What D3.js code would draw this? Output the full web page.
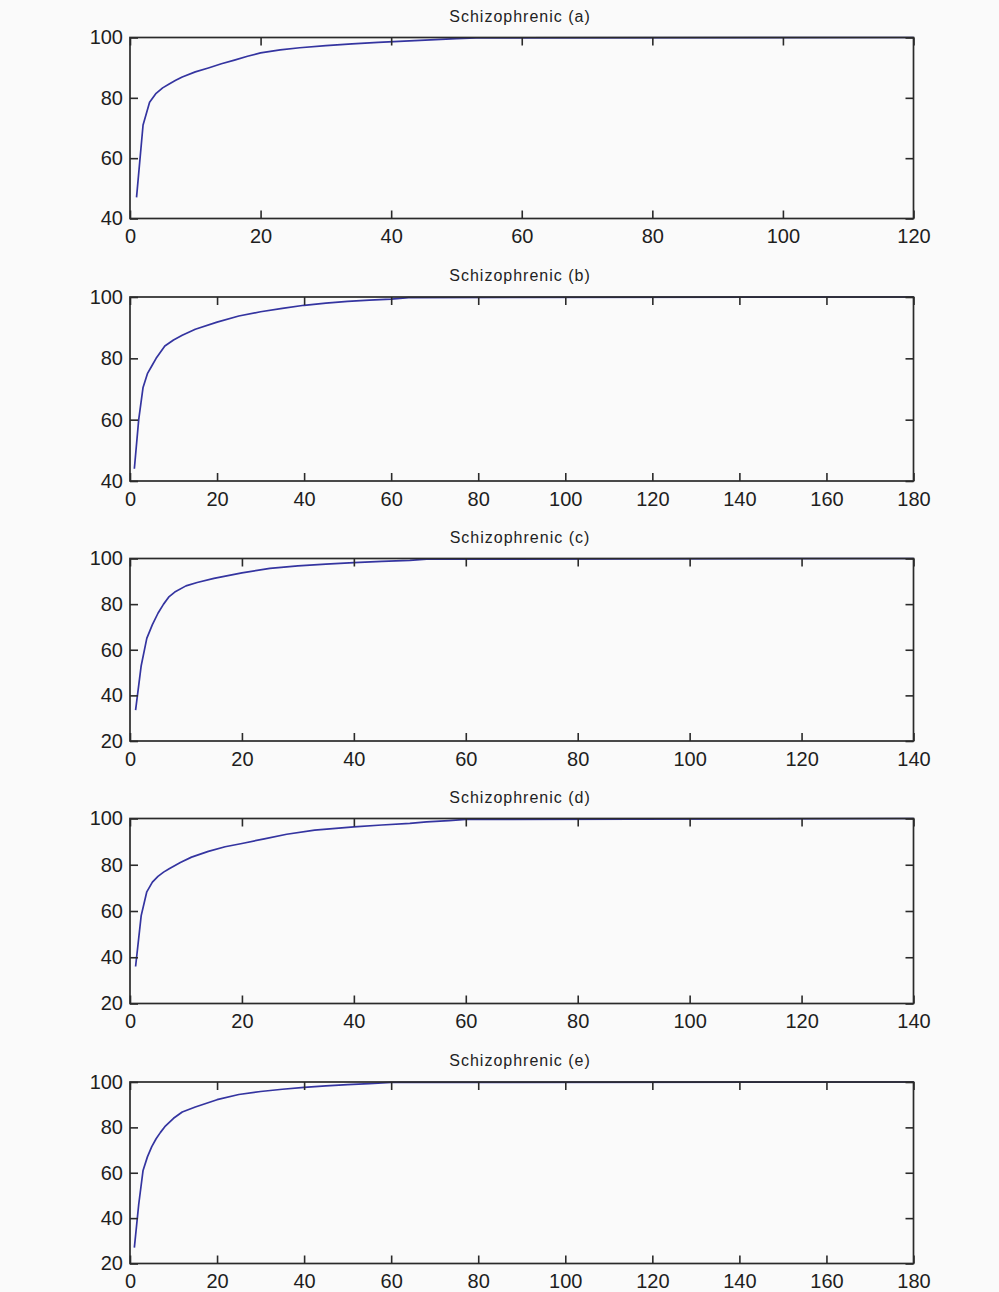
<!DOCTYPE html>
<html>
<head>
<meta charset="utf-8">
<script src="https://cdn.jsdelivr.net/npm/d3@7/dist/d3.min.js"></script>
<style>
  html, body { margin: 0; padding: 0; background: #fafafa; }
  svg { display: block; }
  .tick text { font-family: Arial, "Liberation Sans", Helvetica, sans-serif; }
</style>
</head>
<body>
<svg id="chart" width="999" height="1292"></svg>
<script>
// Panel titles
const titles = ["Schizophrenic (a)", "Schizophrenic (b)", "Schizophrenic (c)", "Schizophrenic (d)", "Schizophrenic (e)"];

// Axis ranges and tick labels per panel
const xMax = [120, 180, 140, 140, 180];
const yMin = [40, 40, 20, 20, 20];
const xTicksA = [0, 20, 40, 60, 80, 100, 120];
const xTicksB = [0, 20, 40, 60, 80, 100, 120, 140, 160, 180];
const xTicksC = [0, 20, 40, 60, 80, 100, 120, 140];
const xTicksD = [0, 20, 40, 60, 80, 100, 120, 140];
const xTicksE = [0, 20, 40, 60, 80, 100, 120, 140, 160, 180];
const yTicks40 = [40, 60, 80, 100];
const yTicks20 = [20, 40, 60, 80, 100];

// Cumulative percentage curves (x = number of components, y = %)
const xA = [1, 2, 3, 4, 5, 6, 7, 8, 10, 12, 14, 16, 18, 20, 23, 26, 30, 34, 38, 42, 46, 50, 53, 120];
const yA = [47, 71, 78.5, 81.5, 83.3, 84.6, 85.8, 86.9, 88.6, 89.9, 91.3, 92.5, 93.8, 94.9, 95.9, 96.6, 97.3, 97.9, 98.4, 98.8, 99.2, 99.6, 99.9, 100];

const xB = [1, 2, 3, 4, 5, 6, 8, 10, 12, 15, 20, 25, 30, 35, 40, 45, 50, 55, 60, 64, 180];
const yB = [44, 60, 70.5, 75, 77.5, 80, 84, 86, 87.5, 89.5, 91.8, 93.8, 95.2, 96.3, 97.3, 98, 98.6, 99, 99.3, 99.8, 100];

const xC = [1, 2, 3, 4, 5, 6, 7, 8, 10, 12, 15, 20, 25, 30, 35, 40, 45, 50, 53, 140];
const yC = [33.5, 53, 65, 71, 76, 80, 83.3, 85.3, 88, 89.5, 91.3, 93.7, 95.7, 96.8, 97.5, 98.2, 98.7, 99.2, 99.7, 100];

const xD = [1, 2, 3, 4, 5, 6, 7, 9, 11, 14, 17, 20, 24, 28, 33, 40, 45, 50, 53, 57, 60, 140];
const yD = [36, 58, 68.3, 72.5, 75, 76.8, 78.3, 81, 83.3, 85.8, 87.8, 89.2, 91.2, 93.2, 95, 96.4, 97.2, 97.9, 98.5, 99.1, 99.6, 100];

const xE = [1, 2, 3, 4, 5, 6, 7, 8, 10, 12, 15, 20, 25, 30, 35, 40, 45, 50, 55, 60, 180];
const yE = [27, 46, 61, 67, 71.5, 75, 77.8, 80.3, 84, 86.8, 89, 92.2, 94.5, 95.8, 96.8, 97.6, 98.3, 98.8, 99.3, 99.8, 100];

const xsAll = [xA, xB, xC, xD, xE];
const ysAll = [yA, yB, yC, yD, yE];
const xTicksAll = [xTicksA, xTicksB, xTicksC, xTicksD, xTicksE];
const yTicksAll = [yTicks40, yTicks40, yTicks20, yTicks20, yTicks20];

// Layout of the five stacked axes
const plotLeft = 130, plotRight = 913.5;
const plotTops = [37.5, 297, 558.5, 818.5, 1082];
const plotBottoms = [218.5, 481, 741, 1003.5, 1263.5];

const svg = d3.select("#chart");
svg.append("rect").attr("width", 999).attr("height", 1292).attr("fill", "#fafafa");

const axisColor = "#2a2a2a";
const lineColor = "#3434a0";

titles.forEach((title, i) => {
  const top = plotTops[i], bottom = plotBottoms[i];
  const x = d3.scaleLinear().domain([0, xMax[i]]).range([plotLeft, plotRight]);
  const y = d3.scaleLinear().domain([yMin[i], 100]).range([bottom, top]);
  const g = svg.append("g");

  // data curve
  const pts = xsAll[i].map((v, k) => [v, ysAll[i][k]]);
  g.append("path")
    .datum(pts)
    .attr("fill", "none")
    .attr("stroke", lineColor)
    .attr("stroke-width", 1.7)
    .attr("stroke-linejoin", "round")
    .attr("d", d3.line().x(d => x(d[0])).y(d => y(d[1])));

  // bottom axis with labels
  const bx = g.append("g").attr("transform", `translate(0,${bottom})`)
    .call(d3.axisBottom(x).tickValues(xTicksAll[i]).tickSizeInner(-8).tickSizeOuter(0).tickPadding(10.5).tickFormat(d3.format("d")));
  // top axis, ticks only
  const tx = g.append("g").attr("transform", `translate(0,${top})`)
    .call(d3.axisTop(x).tickValues(xTicksAll[i]).tickSizeInner(-8).tickSizeOuter(0).tickFormat(""));
  // left axis with labels
  const ly = g.append("g").attr("transform", `translate(${plotLeft},0)`)
    .call(d3.axisLeft(y).tickValues(yTicksAll[i]).tickSizeInner(-8).tickSizeOuter(0).tickPadding(7).tickFormat(d3.format("d")));
  // right axis, ticks only
  const ry = g.append("g").attr("transform", `translate(${plotRight},0)`)
    .call(d3.axisRight(y).tickValues(yTicksAll[i]).tickSizeInner(-8).tickSizeOuter(0).tickFormat(""));

  [bx, tx, ly, ry].forEach(ax => {
    ax.select(".domain").remove();
    ax.selectAll(".tick line").attr("stroke", axisColor).attr("stroke-width", 1.6);
    ax.selectAll(".tick text").attr("fill", "#1e1e1e").style("font-size", "20px");
  });

  // axes box
  g.append("rect")
    .attr("x", plotLeft).attr("y", top)
    .attr("width", plotRight - plotLeft).attr("height", bottom - top)
    .attr("fill", "none").attr("stroke", axisColor).attr("stroke-width", 1.7);

  // title
  g.append("text")
    .attr("x", 520).attr("y", top - 16)
    .attr("text-anchor", "middle")
    .attr("font-family", "Arial, 'Liberation Sans', Helvetica, sans-serif")
    .attr("font-size", 16)
    .attr("letter-spacing", 1)
    .attr("fill", "#222")
    .text(title);
});
</script>
</body>
</html>
